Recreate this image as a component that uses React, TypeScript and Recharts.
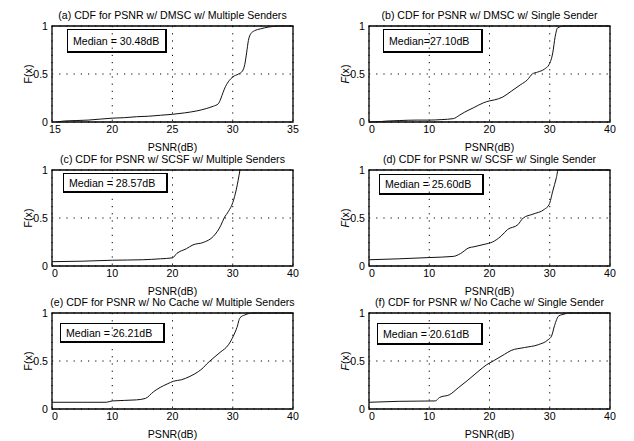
import React from "react";
import {
  LineChart,
  Line,
  XAxis,
  YAxis,
  CartesianGrid,
  ReferenceArea,
} from "recharts";

// (a) DMSC, multiple senders
const psnrA = [15.3, 16, 17, 18, 19, 20, 21, 22, 23, 24, 25, 26, 27, 27.8, 28.4, 28.8, 29.0, 29.2, 29.4, 29.7, 30.0, 30.48, 30.8, 31.0, 31.15, 31.3, 31.5, 31.8, 32.3, 33, 34, 35];
const cdfA = [0, 0.01, 0.015, 0.02, 0.03, 0.04, 0.045, 0.055, 0.06, 0.07, 0.08, 0.095, 0.115, 0.14, 0.165, 0.19, 0.24, 0.31, 0.37, 0.43, 0.47, 0.5, 0.53, 0.6, 0.72, 0.85, 0.92, 0.95, 0.97, 0.99, 1, 1];

// (b) DMSC, single sender
const psnrB = [0, 2, 3, 5, 8, 10, 12, 14, 15, 15.8, 17.4, 19, 20, 20.8, 22.2, 23.6, 25.2, 26.3, 27.1, 28, 29.1, 29.9, 30.5, 30.9, 31.3, 32.4, 40];
const cdfB = [0, 0.005, 0.01, 0.015, 0.02, 0.02, 0.025, 0.035, 0.07, 0.1, 0.15, 0.2, 0.22, 0.23, 0.26, 0.32, 0.39, 0.44, 0.5, 0.52, 0.55, 0.6, 0.72, 0.89, 0.98, 1, 1];

// (c) SCSF, multiple senders
const psnrC = [0, 5, 10, 15, 18, 20, 20.7, 22.3, 23.4, 25.1, 26.8, 28.0, 28.57, 29.3, 30.0, 30.6, 31.2];
const cdfC = [0.045, 0.05, 0.06, 0.065, 0.075, 0.085, 0.13, 0.18, 0.22, 0.245, 0.31, 0.42, 0.5, 0.57, 0.66, 0.8, 1];

// (d) SCSF, single sender
const psnrD = [0, 5, 10, 14, 15.2, 16.6, 17.4, 19.1, 20.5, 21.9, 23, 24.7, 25.6, 27.2, 29.1, 29.9, 30.5, 31.1, 31.4, 40];
const cdfD = [0.065, 0.075, 0.088, 0.1, 0.13, 0.19, 0.2, 0.225, 0.25, 0.31, 0.38, 0.43, 0.5, 0.54, 0.59, 0.64, 0.78, 0.92, 1, 1];

// (e) no cache, multiple senders
const psnrE = [0, 5, 9, 10, 14, 15.5, 16.85, 17.96, 19.1, 20.2, 21.5, 22.9, 24.3, 25.1, 25.7, 26.21, 27.9, 29.3, 30.1, 30.7, 31.2, 32, 33.4, 40];
const cdfE = [0.07, 0.07, 0.07, 0.084, 0.095, 0.11, 0.18, 0.225, 0.26, 0.29, 0.305, 0.34, 0.39, 0.43, 0.47, 0.5, 0.59, 0.67, 0.76, 0.85, 0.95, 0.98, 1, 1];

// (f) no cache, single sender
const psnrF = [0, 5, 11, 11.7, 13.4, 14.8, 16.4, 18.1, 19.5, 20.61, 22.5, 23.6, 25.8, 28.1, 29.7, 30.3, 30.8, 31.5, 32.5, 33, 40];
const cdfF = [0.07, 0.08, 0.084, 0.12, 0.15, 0.22, 0.3, 0.39, 0.46, 0.5, 0.57, 0.61, 0.64, 0.67, 0.72, 0.76, 0.87, 0.97, 0.99, 1, 1];

const titles = [
  "(a) CDF for PSNR w/ DMSC w/ Multiple Senders",
  "(b) CDF for PSNR w/ DMSC w/ Single Sender",
  "(c) CDF for PSNR w/ SCSF w/ Multiple Senders",
  "(d) CDF for PSNR w/ SCSF w/ Single Sender",
  "(e) CDF for PSNR w/ No Cache w/ Multiple Senders",
  "(f) CDF for PSNR w/ No Cache w/ Single Sender",
];
const medians = [
  "Median = 30.48dB",
  "Median=27.10dB",
  "Median = 28.57dB",
  "Median = 25.60dB",
  "Median = 26.21dB",
  "Median = 20.61dB",
];
const ticksA = [15, 20, 25, 30, 35];
const ticksWide = [0, 10, 20, 30, 40];
const yTicks = [0, 0.5, 1];

const toRows = (xs: number[], fs: number[]) => xs.map((x, i) => ({ x, f: fs[i] }));

const FONT = '"Liberation Sans", Arial, Helvetica, sans-serif';
const FS = 10.6;
const PLOT_L = 52;
const PLOT_T = 26;
const PLOT_W = 241;
const PLOT_H = 96;

const panels = [
  { rows: toRows(psnrA, cdfA), ticks: ticksA, left: 0, top: 0, italic: false, box: [15, 3, 100, 24] },
  { rows: toRows(psnrB, cdfB), ticks: ticksWide, left: 317, top: 0, italic: true, box: [14, 3, 100, 24] },
  { rows: toRows(psnrC, cdfC), ticks: ticksWide, left: 0, top: 144, italic: false, box: [11, 3, 105, 20] },
  { rows: toRows(psnrD, cdfD), ticks: ticksWide, left: 317, top: 144, italic: true, box: [10, 4, 105, 21] },
  { rows: toRows(psnrE, cdfE), ticks: ticksWide, left: 0, top: 287, italic: false, box: [8, 10, 105, 20] },
  { rows: toRows(psnrF, cdfF), ticks: ticksWide, left: 317, top: 287, italic: true, box: [8, 10, 106, 22] },
];

function YLabel({ viewBox, italic }: any) {
  const cx = (viewBox?.x ?? 0) + 28;
  const cy = (viewBox?.y ?? 0) + (viewBox?.height ?? 0) / 2;
  return (
    <text
      x={cx}
      y={cy}
      transform={`rotate(-90 ${cx} ${cy})`}
      textAnchor="middle"
      dominantBaseline="central"
      fontSize={FS}
      fill="#000"
    >
      {italic ? <tspan fontStyle="italic">F</tspan> : "F"}(x)
    </text>
  );
}

// first x tick sits a little right of the corner so it clears the "0" on the y axis
function XTick({ x, y, payload, index }: any) {
  return (
    <text x={x + (index === 0 ? 3 : 0)} y={y} dy="0.71em" textAnchor="middle" fontSize={FS} fill="#000">
      {payload.value}
    </text>
  );
}

function Panel({ p, i }: any) {
  const domain = [p.ticks[0], p.ticks[p.ticks.length - 1]];
  return (
    <div style={{ position: "absolute", left: p.left, top: p.top, width: 317, height: 152 }}>
      <div
        style={{
          position: "absolute",
          left: PLOT_L - 20,
          width: PLOT_W + 40,
          top: PLOT_T - 17,
          lineHeight: "12px",
          fontSize: FS,
          textAlign: "center",
          whiteSpace: "nowrap",
        }}
      >
        {titles[i]}
      </div>
      <LineChart
        width={317}
        height={152}
        data={p.rows}
        margin={{ top: PLOT_T, right: 317 - PLOT_L - PLOT_W, bottom: 0, left: 0 }}
      >
        <CartesianGrid stroke="#000" strokeDasharray="1.2 6" strokeWidth={1} />
        <XAxis
          dataKey="x"
          type="number"
          domain={domain}
          ticks={p.ticks}
          allowDataOverflow
          height={152 - PLOT_T - PLOT_H}
          axisLine={false}
          tickLine={false}
          tickSize={0}
          tickMargin={3}
          tick={<XTick />}
        />
        <YAxis
          type="number"
          domain={[0, 1]}
          ticks={yTicks}
          width={PLOT_L}
          axisLine={false}
          tickLine={false}
          tickSize={0}
          tickMargin={4}
          tick={{ fill: "#000", fontSize: FS }}
          label={<YLabel italic={p.italic} />}
        />
        <ReferenceArea
          x1={domain[0]}
          x2={domain[1]}
          y1={0}
          y2={1}
          fill="none"
          stroke="#000"
          strokeWidth={1.3}
        />
        <Line
          dataKey="f"
          type="monotone"
          stroke="#111"
          strokeWidth={1}
          dot={false}
          isAnimationActive={false}
        />
      </LineChart>
      <div
        style={{
          position: "absolute",
          left: PLOT_L + p.box[0],
          top: PLOT_T + p.box[1],
          width: p.box[2],
          height: p.box[3],
          boxSizing: "border-box",
          border: "1px solid #000",
          borderRightWidth: 2,
          borderBottomWidth: 2,
          fontSize: FS,
          display: "flex",
          alignItems: "center",
          paddingLeft: 5,
          whiteSpace: "nowrap",
        }}
      >
        {medians[i]}
      </div>
      <div
        style={{
          position: "absolute",
          left: PLOT_L,
          width: PLOT_W,
          top: PLOT_T + PLOT_H + 19,
          lineHeight: "12px",
          fontSize: FS,
          textAlign: "center",
        }}
      >
        PSNR(dB)
      </div>
    </div>
  );
}

export default function App() {
  return (
    <div
      style={{
        position: "absolute",
        left: 0,
        top: 0,
        width: 634,
        height: 441,
        background: "#fff",
        fontFamily: FONT,
        color: "#000",
        overflow: "hidden",
      }}
    >
      {panels.map((p, i) => (
        <Panel key={i} p={p} i={i} />
      ))}
    </div>
  );
}
